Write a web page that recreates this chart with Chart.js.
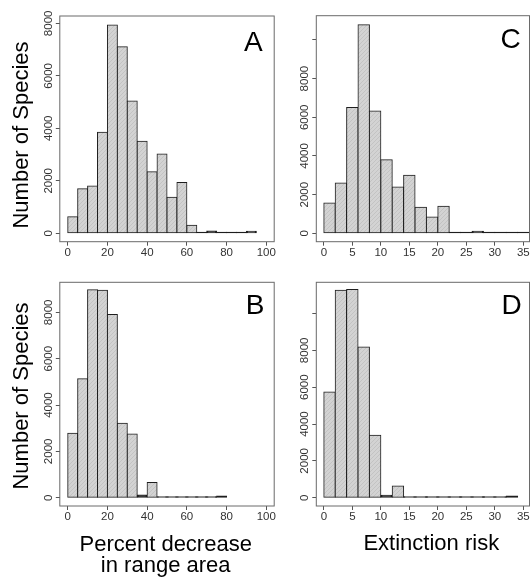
<!DOCTYPE html>
<html>
<head>
<meta charset="utf-8">
<script src="https://cdn.jsdelivr.net/npm/chart.js@4.4.1/dist/chart.umd.min.js"></script>
<style>
  html, body { margin: 0; padding: 0; background: #fff; overflow: hidden; }
  body { position: relative; width: 531px; height: 578px; font-family: "Liberation Sans", Arial, sans-serif; }
  .panel { position: absolute; }
  .lbl { position: absolute; color: #000; white-space: nowrap; text-align: center; }
  .ytitle { font-size: 22px; line-height: 26px; width: 220px; height: 26px; transform: rotate(-90deg); }
  .xtitle { font-size: 22px; line-height: 21px; }
  .letter { font-size: 28px; line-height: 28px; width: 40px; }
</style>
</head>
<body>
<div class="panel" style="left:0;top:0;width:280px;height:265px"><canvas id="chartA"></canvas></div>
<div class="panel" style="left:0;top:270px;width:280px;height:308px"><canvas id="chartB"></canvas></div>
<div class="panel" style="left:256px;top:0;width:275px;height:265px"><canvas id="chartC"></canvas></div>
<div class="panel" style="left:256px;top:270px;width:275px;height:308px"><canvas id="chartD"></canvas></div>

<div class="lbl ytitle" style="left:-89px;top:121.7px">Number of Species</div>
<div class="lbl ytitle" style="left:-89px;top:383px">Number of Species</div>
<div class="lbl xtitle" style="left:45.7px;top:532.8px;width:240px">Percent decrease<br>in range area</div>
<div class="lbl xtitle" style="left:331.3px;top:531.5px;width:200px">Extinction risk</div>
<div class="lbl letter" style="left:233.3px;top:28px">A</div>
<div class="lbl letter" style="left:490.7px;top:25.3px">C</div>
<div class="lbl letter" style="left:235px;top:291.3px">B</div>
<div class="lbl letter" style="left:491.7px;top:291.3px">D</div>

<script>
// histogram bin centres
const pctBinsA = [2.5, 7.5, 12.5, 17.5, 22.5, 27.5, 32.5, 37.5, 42.5, 47.5, 52.5, 57.5, 62.5, 67.5, 72.5, 77.5, 82.5, 87.5, 92.5];
const pctBinsB = [2.5, 7.5, 12.5, 17.5, 22.5, 27.5, 32.5, 37.5, 42.5, 47.5, 52.5, 57.5, 62.5, 67.5, 72.5, 77.5];
const riskBinsC = [1, 3, 5, 7, 9, 11, 13, 15, 17, 19, 21, 23, 25, 27, 29, 31, 33, 35];
const riskBinsD = [1, 3, 5, 7, 9, 11, 13, 15, 17, 19, 21, 23, 25, 27, 29, 31, 33];

// number of species per bin
const countsA = [635, 1700, 1800, 3850, 7940, 7110, 5040, 3505, 2350, 3020, 1370, 1940, 305, 25, 90, 15, 25, 10, 75];
const countsB = [2780, 5140, 8980, 8950, 7910, 3210, 2750, 115, 660, 20, 15, 10, 15, 15, 20, 72];
const countsC = [1570, 2600, 6500, 10780, 6330, 3810, 2400, 3000, 1345, 845, 1400, 30, 40, 110, 10, 20, 40, 10];
const countsD = [5740, 11260, 11310, 8180, 3385, 130, 635, 25, 20, 20, 25, 30, 25, 20, 20, 25, 90];

// tick values and labels
const pctTicks = [0, 20, 40, 60, 80, 100];
const pctTickLabels = ['0', '20', '40', '60', '80', '100'];
const riskTicks = [0, 5, 10, 15, 20, 25, 30, 35];
const riskTickLabels = ['0', '5', '10', '15', '20', '25', '30', '35'];
const countTicks = [0, 2000, 4000, 6000, 8000, 10000];
const countTickLabels = ['0', '2000', '4000', '6000', '8000', ''];

Chart.defaults.font.family = '"Liberation Sans", Arial, sans-serif';

const edge = '#1e1e1e';

// light grey hatched fill for the bars
const pc = document.createElement('canvas');
pc.width = 4; pc.height = 4;
const pctx = pc.getContext('2d');
pctx.fillStyle = '#d3d3d3';
pctx.fillRect(0, 0, 4, 4);
pctx.strokeStyle = '#c3c3c3';
pctx.lineWidth = 1;
pctx.beginPath();
pctx.moveTo(0, 4); pctx.lineTo(4, 0);
pctx.stroke();
const hatch = pctx.createPattern(pc, 'repeat');

// bars only a pixel or two high read as a dark outline
function barFill(ctx) {
    const y = ctx.chart.scales.y;
    if (!ctx.raw || !y) return hatch;
    const h = y.getPixelForValue(0) - y.getPixelForValue(ctx.raw.y);
    return h < 3 ? edge : hatch;
}

const boxPlugin = {
    id: 'box',
    afterDraw(chart) {
        const a = chart.chartArea;
        const ctx = chart.ctx;
        ctx.save();
        ctx.strokeStyle = '#6a6a6a';
        ctx.lineWidth = 1;
        ctx.strokeRect(a.left, a.top, a.right - a.left, a.bottom - a.top);
        ctx.restore();
    }
};

const tickFont = { size: 11.5 };

function histogram(id, bins, counts, xTicks, xLabels, xMin, xMax, yMin, yMax, pad, yAxisW, xAxisH) {
    new Chart(document.getElementById(id), {
        type: 'bar',
        data: {
            datasets: [{
                data: bins.map((b, i) => ({ x: b, y: counts[i] })),
                backgroundColor: barFill,
                borderColor: edge,
                borderWidth: 1,
                borderSkipped: false,
                inflateAmount: 0.5,
                barPercentage: 1,
                categoryPercentage: 1,
                minBarLength: 1
            }]
        },
        options: {
            responsive: true,
            maintainAspectRatio: false,
            animation: false,
            layout: { padding: pad },
            plugins: { legend: { display: false }, tooltip: { enabled: false } },
            scales: {
                x: {
                    type: 'linear',
                    min: xMin,
                    max: xMax,
                    offset: false,
                    grid: { offset: false, drawOnChartArea: false, tickLength: 4, color: '#555' },
                    border: { display: false },
                    afterBuildTicks: s => { s.ticks = xTicks.map(v => ({ value: v })); },
                    afterFit: s => { s.height = xAxisH; s.paddingLeft = 0; s.paddingRight = 0; },
                    ticks: {
                        autoSkip: false,
                        maxRotation: 0,
                        padding: 0,
                        color: '#333',
                        font: tickFont,
                        callback: (v, i) => xLabels[i]
                    }
                },
                y: {
                    type: 'linear',
                    min: yMin,
                    max: yMax,
                    grid: { drawOnChartArea: false, tickLength: 4, color: '#555' },
                    border: { display: false },
                    afterBuildTicks: s => {
                        s.ticks = countTicks.filter(v => v <= yMax).map(v => ({ value: v }));
                    },
                    afterFit: s => { s.width = yAxisW; s.paddingTop = 0; s.paddingBottom = 0; },
                    ticks: {
                        autoSkip: false,
                        minRotation: 90,
                        maxRotation: 90,
                        crossAlign: 'center',
                        padding: -5.8,
                        color: '#333',
                        font: tickFont,
                        callback: (v, i) => countTickLabels[i]
                    }
                }
            }
        },
        plugins: [boxPlugin]
    });
}

histogram('chartA', pctBinsA, countsA, pctTicks, pctTickLabels, -4, 104, -320, 8280,
    { left: 0, top: 16, right: 5.8, bottom: 0 }, 59.8, 23.3);
histogram('chartB', pctBinsB, countsB, pctTicks, pctTickLabels, -4, 104, -358, 9298,
    { left: 0, top: 12.3, right: 5.8, bottom: 42 }, 59.8, 30);
histogram('chartC', riskBinsC, countsC, riskTicks, riskTickLabels, -1.32, 36.08, -434, 11254,
    { left: 0, top: 15.7, right: 1.5, bottom: 0 }, 60.3, 23.3);
histogram('chartD', riskBinsD, countsD, riskTicks, riskTickLabels, -1.32, 36.08, -451, 11696,
    { left: 0, top: 12.3, right: 1.5, bottom: 42 }, 60.3, 30);
</script>
</body>
</html>
